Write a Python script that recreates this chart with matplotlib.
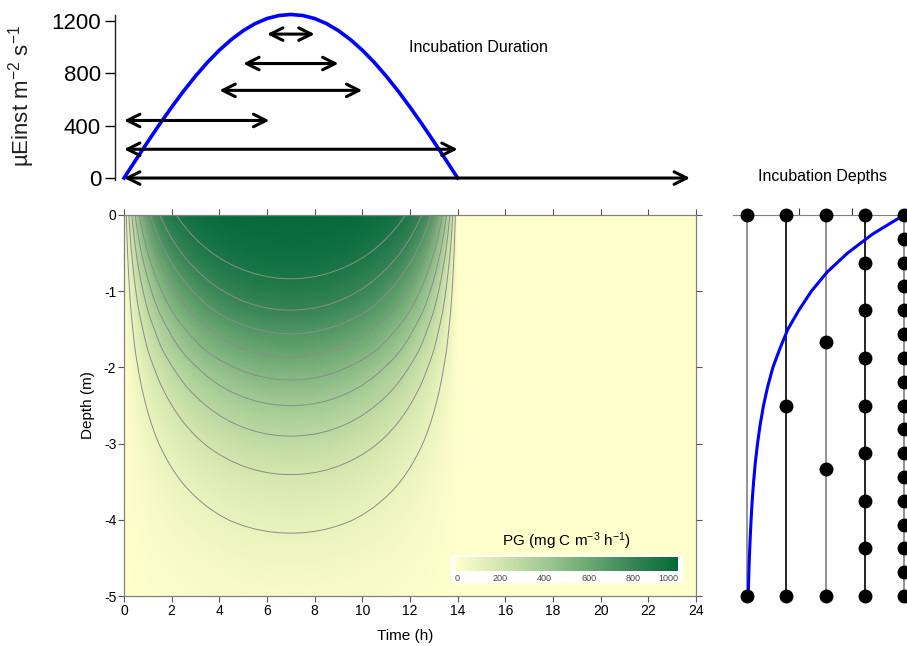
import matplotlib
matplotlib.use('Agg')
import numpy as np
import matplotlib.pyplot as plt
from matplotlib.colors import LinearSegmentedColormap
from matplotlib.patches import Rectangle

plt.rcParams['font.family'] = ['Liberation Sans', 'DejaVu Sans']
plt.rcParams['mathtext.default'] = 'regular'
plt.rcParams['axes.unicode_minus'] = False

# ---------------- data ----------------
# surface irradiance (µEinst m-2 s-1), half-hourly from 0 to 14 h
par_time = [0, 0.5, 1, 1.5, 2, 2.5, 3, 3.5, 4, 4.5, 5, 5.5, 6, 6.5, 7,
            7.5, 8, 8.5, 9, 9.5, 10, 10.5, 11, 11.5, 12, 12.5, 13, 13.5, 14]
par_value = [0, 140, 278, 413, 542, 665, 779, 884, 977, 1058, 1126, 1180, 1219, 1242, 1250,
             1242, 1219, 1180, 1126, 1058, 977, 884, 779, 665, 542, 413, 278, 140, 0]

# incubation durations (start h, end h, plotted level)
arrow_start = [6, 5, 4, 0, 0, 0]
arrow_end = [8, 9, 10, 6.1, 14, 23.75]
arrow_level = [1100, 875, 670, 440, 220, 0]

# relative light profile with depth (fraction of surface)
light_depth = [0, 0.25, 0.5, 0.75, 1.0, 1.25, 1.5, 1.75, 2.0, 2.25, 2.5, 2.75, 3.0,
               3.25, 3.5, 3.75, 4.0, 4.25, 4.5, 4.75, 5.0]
light_frac = [1.0, 0.80, 0.64, 0.51, 0.41, 0.33, 0.26, 0.21, 0.165, 0.132, 0.105, 0.084, 0.067,
              0.053, 0.042, 0.033, 0.026, 0.020, 0.015, 0.011, 0.008]

# incubation depth schemes (column position, depths in m)
scheme_pos = [0, 0.25, 0.5, 0.75, 1.0]
scheme_depths = [
    [0, 5],
    [0, 2.5, 5],
    [0, 1.667, 3.333, 5],
    [0, 0.625, 1.25, 1.875, 2.5, 3.125, 3.75, 4.375, 5],
    [0, 0.3125, 0.625, 0.9375, 1.25, 1.5625, 1.875, 2.1875, 2.5,
     2.8125, 3.125, 3.4375, 3.75, 4.0625, 4.375, 4.6875, 5],
]
scheme_colors = ['#808080', 'black', '#808080', 'black', '#808080']

# photosynthesis parameters
pmax = 1000.0
alpha = 3.9
pg_levels = [100, 200, 300, 400, 500, 600, 700, 800, 900]
cbar_ticks = [0, 200, 400, 600, 800, 1000]

# ---------------- figure ----------------
W, H = 907, 646
fig = plt.figure(figsize=(W / 100, H / 100), dpi=100)


def px(l, t, r, b):
    return [l / W, 1 - b / H, (r - l) / W, (b - t) / H]


cmap = LinearSegmentedColormap.from_list(
    'pg', [(0, '#ffffcc'), (0.2, '#d3e6ae'), (0.4, '#a2c993'),
           (0.6, '#6ca872'), (0.8, '#368456'), (1.0, '#046a38')])

# ---- main contour panel ----
ax = fig.add_axes(px(124, 215, 696, 596))
t_grid = np.linspace(0, 24, 601)
z_grid = np.linspace(0, 5, 501)
par_f = np.interp(t_grid, par_time, par_value, left=0, right=0)
rel_f = np.exp(np.interp(z_grid, light_depth, np.log(light_frac)))
I = rel_f[:, None] * par_f[None, :]
PG = pmax * (1 - np.exp(-alpha * I / pmax))
ax.imshow(PG, extent=[0, 24, -5, 0], origin='upper', aspect='auto',
          cmap=cmap, vmin=0, vmax=1000, interpolation='bilinear')
T, Z = np.meshgrid(t_grid, -z_grid)
ax.contour(T, Z, PG, levels=pg_levels, colors='#8c8c8c', linewidths=0.7)
ax.set_xlim(0, 24)
ax.set_ylim(-5, 0)
ax.set_xticks(range(0, 25, 2))
ax.set_yticks([0, -1, -2, -3, -4, -5])
ax.tick_params(axis='both', direction='out', length=4, width=0.8, color='#555555',
               labelsize=10, pad=1.5, top=True, right=True, labeltop=False, labelright=False)
for s in ax.spines.values():
    s.set_color('#808080')
    s.set_linewidth(0.9)
fig.text(405 / W, 1 - 636 / H, 'Time (h)', ha='center', va='center', fontsize=11)
fig.text(88 / W, 1 - 405 / H, 'Depth (m)', ha='center', va='center', fontsize=11, rotation=90)

# colorbar box
ax.add_patch(Rectangle((451 / W, 1 - 583 / H), 232 / W, 28 / H, transform=fig.transFigure,
                       facecolor='white', edgecolor='none', zorder=5))
fig.text(567 / W, 1 - 541 / H, 'PG (mg C m$^{-3}$ h$^{-1}$)', ha='center', va='center', fontsize=11)
cax = fig.add_axes(px(455, 557, 678, 571))
sm = plt.cm.ScalarMappable(cmap=cmap, norm=plt.Normalize(0, 1000))
cb = fig.colorbar(sm, cax=cax, orientation='horizontal')
cb.outline.set_visible(False)
cb.set_ticks(cbar_ticks)
cb.ax.tick_params(length=0, labelsize=6.5, labelcolor='#444444', pad=2)
labs = cb.ax.get_xticklabels()
labs[0].set_ha('left')
labs[-1].set_ha('right')

# ---- top irradiance panel ----
axt = fig.add_axes(px(115, 15, 696, 180))
axt.plot(par_time, par_value, color='#0000ff', lw=2.6, clip_on=False, zorder=3)
for s, e, lv in zip(arrow_start, arrow_end, arrow_level):
    axt.annotate('', xy=(e, lv), xytext=(s, lv),
                 arrowprops=dict(arrowstyle='<->, head_length=0.9, head_width=0.45',
                                 lw=2.2, color='black', shrinkA=0, shrinkB=0),
                 annotation_clip=False, zorder=4)
axt.set_xlim(-0.378, 24)
axt.set_ylim(-15, 1246)
axt.set_yticks([0, 400, 800, 1200])
axt.set_xticks([])
for k in ['top', 'right', 'bottom']:
    axt.spines[k].set_visible(False)
axt.spines['left'].set_color('#222222')
axt.spines['left'].set_linewidth(1.0)
axt.tick_params(axis='y', direction='out', length=7, width=1, labelsize=16, pad=3)
axt.patch.set_alpha(0)
fig.text(22 / W, 1 - 96 / H, 'µEinst m$^{-2}$ s$^{-1}$', ha='center', va='center',
         fontsize=16, rotation=90, color='#202020')
fig.text(478 / W, 1 - 47 / H, 'Incubation Duration', ha='center', va='center', fontsize=11.5)

# ---- right incubation depths panel ----
axr = fig.add_axes(px(733, 215, 907, 596))
for xp, deps, c in zip(scheme_pos, scheme_depths, scheme_colors):
    axr.plot([xp, xp], [0, -5], color=c, lw=1.2, clip_on=False, zorder=2)
axr.plot(light_frac, [-d for d in light_depth], color='#0000ff', lw=2.2, clip_on=False, zorder=3)
for xp, deps in zip(scheme_pos, scheme_depths):
    axr.plot([xp] * len(deps), [-d for d in deps], 'o', color='black', ms=9,
             clip_on=False, zorder=4)
axr.set_xlim(-0.0892, 1.019)
axr.set_ylim(-5, 0)
for k in ['left', 'right', 'bottom']:
    axr.spines[k].set_visible(False)
axr.spines['top'].set_color('#808080')
axr.xaxis.tick_top()
axr.set_xticks([1 / 3, 2 / 3])
axr.set_xticklabels([])
axr.set_yticks([])
axr.tick_params(axis='x', direction='out', length=5, width=0.8, color='#333333')
axr.patch.set_alpha(0)
fig.text(822 / W, 1 - 176 / H, 'Incubation Depths', ha='center', va='center', fontsize=11.5)

fig.savefig('out.png', dpi=100)
